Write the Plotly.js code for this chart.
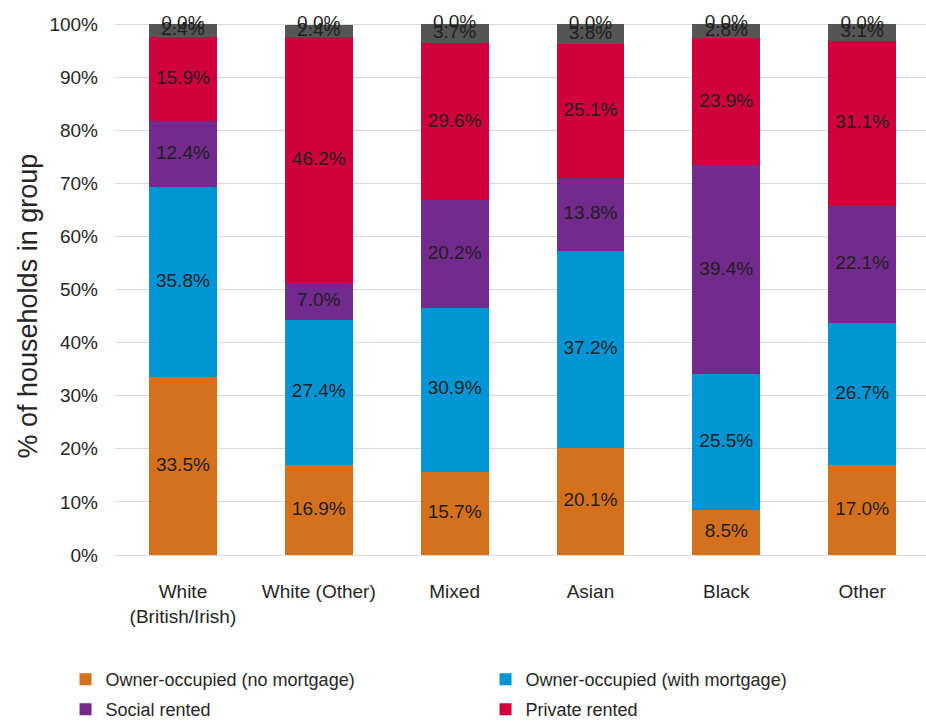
<!DOCTYPE html>
<html>
<head>
<meta charset="utf-8">
<script src="https://cdn.plot.ly/plotly-3.0.1.min.js"></script>
<style>html,body{margin:0;padding:0;background:#fff;}#chart{width:926px;height:722px;}</style>
</head>
<body>
<div id="chart"></div>
<script>
const categories = ["White<br>(British/Irish)", "White (Other)", "Mixed", "Asian", "Black", "Other"];
const ownerNoMortgage = [33.5, 16.9, 15.7, 20.1, 8.5, 17.0];
const ownerWithMortgage = [35.8, 27.4, 30.9, 37.2, 25.5, 26.7];
const socialRented = [12.4, 7.0, 20.2, 13.8, 39.4, 22.1];
const privateRented = [15.9, 46.2, 29.6, 25.1, 23.9, 31.1];
const otherTenure = [2.4, 2.4, 3.7, 3.8, 2.8, 3.1];
const zeroTenure = [0.0, 0.0, 0.0, 0.0, 0.0, 0.0];
const yTicks = [0, 10, 20, 30, 40, 50, 60, 70, 80, 90, 100];

const FONT = "'Liberation Sans', Arial, sans-serif";
const series = [
  {name: "Owner-occupied (no mortgage)", vals: ownerNoMortgage, color: "#D5701D", legend: "legend"},
  {name: "Owner-occupied (with mortgage)", vals: ownerWithMortgage, color: "#0096D6", legend: "legend"},
  {name: "Social rented", vals: socialRented, color: "#722A8C", legend: "legend2"},
  {name: "Private rented", vals: privateRented, color: "#D0003C", legend: "legend2"},
  {name: "Other", vals: otherTenure, color: "#555555", legend: null},
  {name: "None", vals: zeroTenure, color: "#555555", legend: null}
];

const traces = [];
const base = categories.map(() => 0);
const labelTraces = [];
series.forEach(s => {
  const t = {
    type: "bar", x: categories, y: s.vals, name: s.name,
    marker: {color: s.color, line: {width: 0}},
    showlegend: !!s.legend, hoverinfo: "skip"
  };
  if (s.legend) t.legend = s.legend;
  traces.push(t);
  const mids = s.vals.map((v, i) => base[i] + v / 2);
  labelTraces.push({
    type: "scatter", mode: "text", x: categories, y: mids,
    text: s.vals.map(v => v.toFixed(1) + "%"),
    textposition: "middle center",
    textfont: {family: FONT, size: 19, color: "#1f1f1f"},
    showlegend: false, hoverinfo: "skip", cliponaxis: false
  });
  s.vals.forEach((v, i) => base[i] += v);
});

const legendCommon = {
  orientation: "h", xanchor: "left", yanchor: "middle",
  entrywidth: 375, entrywidthmode: "pixels", traceorder: "normal",
  font: {family: FONT, size: 18, color: "#262626"},
  itemclick: false, itemdoubleclick: false, bgcolor: "rgba(0,0,0,0)"
};

const layout = {
  width: 926, height: 722,
  margin: {l: 115, r: 0, t: 22.5, b: 166.5, autoexpand: false},
  paper_bgcolor: "#fff", plot_bgcolor: "#fff",
  barmode: "stack", bargap: 0.5,
  font: {family: FONT, size: 18, color: "#333"},
  xaxis: {
    type: "category", range: [-0.5, 5.47], showgrid: false, showline: false,
    zeroline: false, ticks: "", ticklabelstandoff: 23,
    tickfont: {family: FONT, size: 19, color: "#262626"}, fixedrange: true
  },
  yaxis: {
    range: [0, 100.2], tickvals: yTicks, ticktext: yTicks.map(t => t + "%"),
    showgrid: true, gridcolor: "#d9d9d9", gridwidth: 1,
    zeroline: true, zerolinecolor: "#d9d9d9", zerolinewidth: 1,
    showline: false, ticks: "", ticklabelstandoff: 16,
    tickfont: {family: FONT, size: 19, color: "#262626"}, fixedrange: true
  },
  legend: Object.assign({}, legendCommon, {x: -0.061, y: (555.5 - 680) / 532}),
  legend2: Object.assign({}, legendCommon, {x: -0.061, y: (555.5 - 710) / 532}),
  annotations: [{
    text: "% of households in group", textangle: -90,
    xref: "paper", yref: "paper", x: (27 - 115) / 811, y: (555.5 - 307) / 532,
    xanchor: "center", yanchor: "middle", showarrow: false,
    font: {family: FONT, size: 27, color: "#262626"}
  }],
  showlegend: true
};

Plotly.newPlot("chart", traces.concat(labelTraces), layout, {displayModeBar: false, staticPlot: true});
</script>
</body>
</html>
